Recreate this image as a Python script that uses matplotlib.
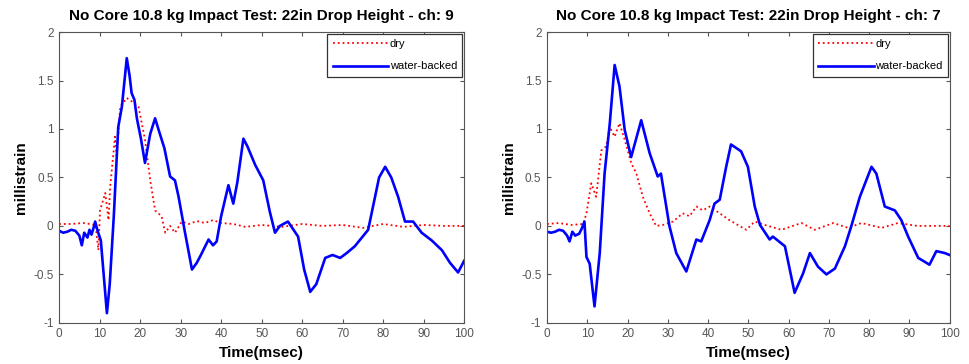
#!/usr/bin/env python3

import matplotlib
matplotlib.use("Agg")
import matplotlib.pyplot as plt

plt.rcParams["font.family"] = ["Liberation Sans", "DejaVu Sans"]

# channel 9 (left panel)
ch9_wet_t = [0, 1, 2, 3, 4, 5, 5.6, 6.2, 7, 7.5, 8, 8.5, 8.9, 9.5, 10.3, 11, 11.8, 12.5, 13.5,
             14.6, 15.5, 16.7, 17.4, 17.9, 18.6, 19.2, 20.2, 21.2, 22.5, 23.7, 24.5, 26, 27.4,
             28.6, 29.5, 31, 32.8, 34, 35, 36.9, 38, 38.9, 40, 41.8, 43, 44, 45.5, 46.5, 48.4,
             50.4, 52, 53.3, 54.5, 56.5, 59, 60.5, 62, 63.5, 65.7, 67.5, 69.4, 71, 73, 76.3,
             77.5, 79, 80.5, 82, 83.7, 85.4, 87.4, 89.5, 92, 94.5, 96.5, 98.5, 100]
ch9_wet = [-0.05, -0.07, -0.06, -0.04, -0.05, -0.1, -0.2, -0.07, -0.12, -0.04, -0.09, -0.02, 0.045,
           -0.05, -0.15, -0.5, -0.9, -0.6, 0.1, 1.02, 1.23, 1.73, 1.55, 1.37, 1.3, 1.11, 0.9,
           0.65, 0.95, 1.11, 1.0, 0.8, 0.51, 0.47, 0.3, -0.05, -0.45, -0.38, -0.3, -0.14, -0.2,
           -0.16, 0.1, 0.42, 0.23, 0.45, 0.9, 0.82, 0.63, 0.47, 0.15, -0.07, 0.0, 0.045, -0.11,
           -0.45, -0.68, -0.6, -0.33, -0.3, -0.33, -0.28, -0.21, -0.04, 0.2, 0.5, 0.61, 0.5,
           0.3, 0.045, 0.045, -0.07, -0.15, -0.25, -0.38, -0.48, -0.36]
ch9_dry_t = [0, 3, 6, 9, 9.7, 10.1, 11.4, 12.2, 12.6, 13.8, 14.2, 15.1, 16.7, 18.1, 19.6, 21.2,
             22.5, 23.7, 25.3, 26.2, 27.4, 28.6, 30.3, 32, 34, 36, 38, 40, 43, 46, 50, 55, 60,
             65, 70, 75, 80, 85, 90, 95, 100]
ch9_dry = [0.02, 0.02, 0.03, 0.01, -0.25, 0.16, 0.34, 0.06, 0.4, 0.92, 0.72, 1.23, 1.32, 1.28,
           1.23, 0.89, 0.47, 0.16, 0.1, -0.07, 0.0, -0.07, 0.045, 0.02, 0.05, 0.03, 0.06, 0.03,
           0.02, -0.01, 0.01, -0.01, 0.02, 0.0, 0.01, -0.02, 0.02, -0.01, 0.01, 0.0, 0.0]

# channel 7 (right panel)
ch7_wet_t = [0, 1, 2, 3, 4, 5, 5.6, 6.3, 7, 8, 8.6, 9.3, 9.8, 10.6, 11.8, 13.1, 14.3, 15.6,
             16.8, 18, 19.3, 20.9, 23.4, 25.5, 27.5, 28.3, 30.4, 32.1, 34.6, 37.1, 38.3, 40.4,
             41.6, 42.9, 44.5, 45.7, 48.2, 49.9, 51.6, 52.9, 55.3, 56.1, 59.1, 61.5, 63.6, 65.3,
             67.3, 69.4, 71.5, 74, 75.6, 77.7, 80.6, 81.8, 83.9, 86.4, 88, 89.7, 92.2, 95,
             96.7, 98.8, 100]
ch7_wet = [-0.06, -0.07, -0.06, -0.04, -0.05, -0.1, -0.16, -0.06, -0.1, -0.08, -0.03, 0.045,
           -0.32, -0.39, -0.83, -0.28, 0.54, 1.06, 1.66, 1.44, 0.99, 0.71, 1.09, 0.75, 0.51,
           0.54, 0.0, -0.28, -0.47, -0.14, -0.16, 0.06, 0.23, 0.27, 0.61, 0.84, 0.77, 0.61,
           0.2, 0.01, -0.14, -0.11, -0.21, -0.69, -0.49, -0.28, -0.42, -0.5, -0.44, -0.21, 0.0,
           0.3, 0.61, 0.54, 0.2, 0.16, 0.06, -0.11, -0.33, -0.4, -0.26, -0.28, -0.3]
ch7_dry_t = [0, 3, 6, 9, 9.8, 11, 12.2, 13.5, 14.7, 15.6, 16.8, 18, 19.3, 20.9, 22.2, 23.8, 25.5,
             27.1, 28.8, 31.3, 33.7, 35.4, 37.1, 38.7, 40.4, 42.9, 45.3, 49.5, 51.6, 54.1, 58.2,
             63.2, 66.5, 71.1, 74.8, 78.1, 83.1, 87.2, 92, 100]
ch7_dry = [0.02, 0.03, 0.01, 0.02, 0.13, 0.44, 0.3, 0.78, 0.82, 1.02, 0.92, 1.06, 0.89, 0.65,
           0.54, 0.3, 0.13, 0.0, 0.01, 0.045, 0.13, 0.1, 0.2, 0.16, 0.2, 0.13, 0.06, -0.04, 0.045,
           0.01, -0.04, 0.03, -0.04, 0.03, -0.02, 0.03, -0.02, 0.03, 0.0, 0.0]

xticks = [0, 10, 20, 30, 40, 50, 60, 70, 80, 90, 100]
yticks = [-1, -0.5, 0, 0.5, 1, 1.5, 2]
ytick_labels = ["-1", "-0.5", "0", "0.5", "1", "1.5", "2"]

panels = [
    ("9", ch9_dry_t, ch9_dry, ch9_wet_t, ch9_wet),
    ("7", ch7_dry_t, ch7_dry, ch7_wet_t, ch7_wet),
]

fig = plt.figure(figsize=(9.69, 3.64), dpi=100)
boxes = [[0.061, 0.113, 0.418, 0.799], [0.5645, 0.113, 0.4155, 0.799]]

for box, (ch, dt, dv, wt, wv) in zip(boxes, panels):
    ax = fig.add_axes(box)
    ax.plot(dt, dv, color="red", linestyle=":", linewidth=1.3, label="dry")
    ax.plot(wt, wv, color="blue", linestyle="-", linewidth=1.9, label="water-backed")
    ax.set_xlim(0, 100)
    ax.set_ylim(-1, 2)
    ax.set_xticks(xticks)
    ax.set_yticks(yticks)
    ax.set_yticklabels(ytick_labels)
    ax.tick_params(direction="in", top=True, right=True, labelsize=8.5, length=3,
                   colors="#555555", labelcolor="#555555", pad=4)
    for sp in ax.spines.values():
        sp.set_color("#555555")
        sp.set_linewidth(0.8)
    ax.set_title("No Core 10.8 kg Impact Test: 22in Drop Height - ch: " + ch,
                 fontsize=11, fontweight="bold", pad=9)
    ax.set_xlabel("Time(msec)", fontsize=11, fontweight="bold", labelpad=4)
    ax.set_ylabel("millistrain", fontsize=11, fontweight="bold", labelpad=4)
    leg = ax.legend(loc="upper right", fontsize=8, fancybox=False, framealpha=1,
                    edgecolor="#333333", handlelength=5, borderaxespad=0.15,
                    handletextpad=0.1, labelspacing=1.1, borderpad=0.5)
    leg.get_frame().set_linewidth(0.9)

fig.savefig("out.png", dpi=100)
